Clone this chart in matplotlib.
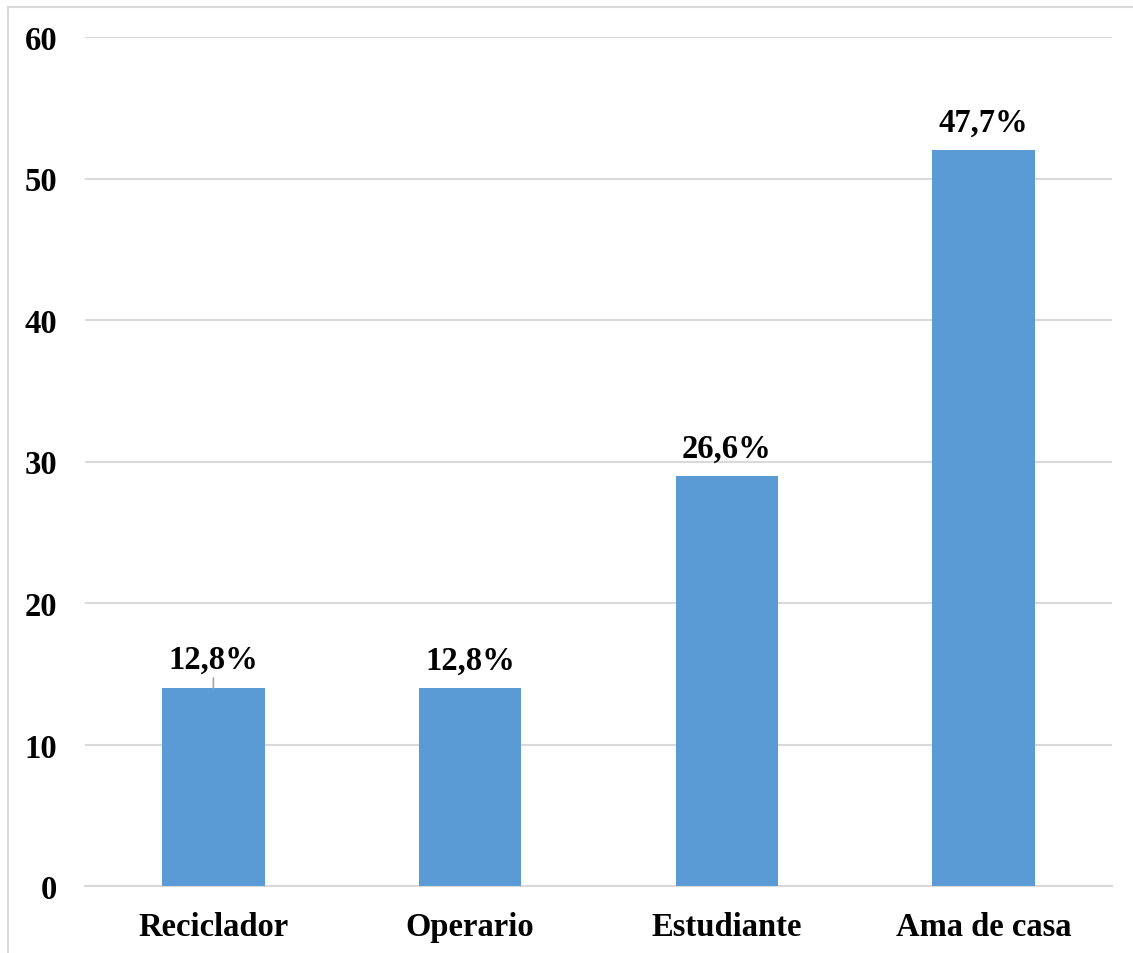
import matplotlib
matplotlib.use("Agg")
import matplotlib.pyplot as plt
from matplotlib.lines import Line2D

categories = ["Reciclador", "Operario", "Estudiante", "Ama de casa"]
values = [14, 14, 29, 52]
labels = ["12,8%", "12,8%", "26,6%", "47,7%"]
yticks = [0, 10, 20, 30, 40, 50, 60]

plt.rcParams['font.family'] = ['Liberation Serif', 'DejaVu Serif']
plt.rcParams['font.weight'] = 'bold'

FS = 23.5
W, H = 1133, 954
fig = plt.figure(figsize=(W / 100, H / 100), dpi=100)
ax = fig.add_axes([85 / W, 1 - 887 / H, (1112 - 85) / W, (887 - 38) / H])

x = list(range(len(categories)))
ax.bar(x, values, width=0.4, color="#5b9bd5", zorder=3)
ax.set_xlim(-0.5, len(categories) - 0.5)
ax.set_ylim(0, 60)
ax.set_yticks(yticks)
ax.set_yticklabels([str(t) for t in yticks], fontsize=FS, fontweight='bold')
ax.set_xticks(x)
ax.set_xticklabels(categories, fontsize=FS, fontweight='bold')
ax.tick_params(axis='y', length=0, pad=20)
ax.tick_params(axis='x', length=0, pad=18)
ax.grid(axis='y', color="#d9d9d9", linewidth=1.5, zorder=0)
for s in ["top", "right", "left"]:
    ax.spines[s].set_visible(False)
ax.spines["bottom"].set_color("#d9d9d9")
ax.spines["bottom"].set_linewidth(1.5)

for i, (v, lab) in enumerate(zip(values, labels)):
    if i == 0:
        ax.annotate(lab, xy=(i, v), xytext=(i, v + 2.0), ha='center', va='center',
                    fontsize=FS, fontweight='bold',
                    arrowprops=dict(arrowstyle='-', color='#a6a6a6', lw=1.2,
                                    shrinkA=14, shrinkB=0))
    else:
        ax.annotate(lab, xy=(i, v), xytext=(0, 20), textcoords='offset points',
                    ha='center', va='center', fontsize=FS, fontweight='bold')

# figure border (left and top)
fig.add_artist(Line2D([8 / W, 8 / W], [0, 1 - 8 / H], transform=fig.transFigure,
                      color="#d9d9d9", lw=1.5))
fig.add_artist(Line2D([8 / W, 1], [1 - 8 / H, 1 - 8 / H], transform=fig.transFigure,
                      color="#d9d9d9", lw=1.5))

fig.savefig("out.png", dpi=100, facecolor="white")
